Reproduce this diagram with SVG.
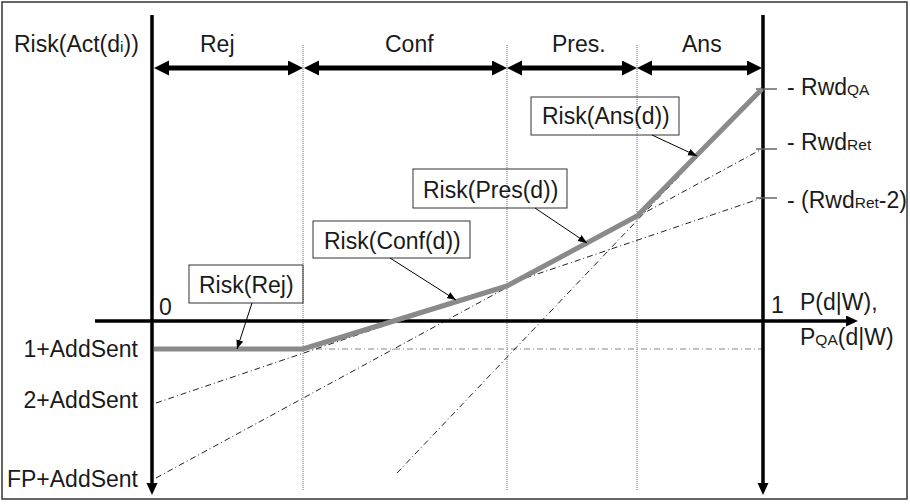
<svg xmlns="http://www.w3.org/2000/svg" width="910" height="504" viewBox="0 0 910 504">
  <defs>
    <style>
      text { font-family: "Liberation Sans", Arial, sans-serif; font-size: 23px; fill: #1a1a1a; }
      .sub { font-size: 15.5px; }
      .axis { stroke: #000; stroke-width: 3.5; fill: none; }
      .span { stroke: #000; stroke-width: 5; fill: none; }
      .guide { stroke: #666; stroke-width: 1; stroke-dasharray: 1 1; fill: none; }
      .dashdot { stroke: #222; stroke-width: 1; stroke-dasharray: 6 3 1 3; fill: none; }
      .dashdot-gray { stroke: #888; stroke-width: 1.2; stroke-dasharray: 6 3 1 3; fill: none; }
      .risk { stroke: #8a8a8a; stroke-width: 5; fill: none; stroke-linejoin: round; }
      .tick { stroke: #666; stroke-width: 1.5; }
      .box { fill: none; stroke: #333; stroke-width: 1; }
      .callout { stroke: #000; stroke-width: 1; fill: none; }
    </style>
    <marker id="spanHead" markerUnits="userSpaceOnUse" markerWidth="16" markerHeight="16" refX="5" refY="7.5" orient="auto-start-reverse">
      <path d="M0,0 L15,7.5 L0,15 z" fill="#000"/>
    </marker>
    <marker id="axisHead" markerUnits="userSpaceOnUse" markerWidth="14" markerHeight="12" refX="4" refY="5.5" orient="auto">
      <path d="M0,0 L12,5.5 L0,11 z" fill="#000"/>
    </marker>
    <marker id="calloutHead" markerUnits="userSpaceOnUse" markerWidth="10" markerHeight="8" refX="9" refY="3.5" orient="auto">
      <path d="M0,0 L9,3.5 L0,7 z" fill="#000"/>
    </marker>
  </defs>

  <rect x="2" y="2" width="905" height="497" fill="#fff" stroke="#333" stroke-width="1.5"/>

  <!-- interval boundaries -->
  <g id="guides">
    <line class="guide" x1="303" y1="45" x2="303" y2="490"/>
    <line class="guide" x1="507" y1="45" x2="507" y2="490"/>
    <line class="guide" x1="637" y1="45" x2="637" y2="490"/>
  </g>

  <!-- reference lines -->
  <g id="reference-lines">
    <line class="dashdot-gray" x1="303" y1="349" x2="762" y2="349"/>
    <line class="dashdot" x1="156" y1="403" x2="762" y2="198"/>
    <line class="dashdot" x1="156" y1="478" x2="762" y2="149"/>
    <line class="dashdot" x1="397" y1="473" x2="762" y2="89"/>
  </g>

  <!-- axes -->
  <g id="axes">
    <line class="axis" x1="152" y1="15" x2="152" y2="487" marker-end="url(#axisHead)"/>
    <line class="axis" x1="763" y1="15" x2="763" y2="487" marker-end="url(#axisHead)"/>
    <line class="axis" x1="95" y1="321" x2="850" y2="321" marker-end="url(#axisHead)"/>
    <line class="tick" x1="756" y1="89" x2="777" y2="89"/>
    <line class="tick" x1="756" y1="149" x2="777" y2="149"/>
    <line class="tick" x1="756" y1="198" x2="777" y2="198"/>
  </g>

  <!-- decision intervals -->
  <g id="intervals">
    <line class="span" x1="164" y1="68" x2="293" y2="68" marker-start="url(#spanHead)" marker-end="url(#spanHead)"/>
    <line class="span" x1="314" y1="68" x2="497" y2="68" marker-start="url(#spanHead)" marker-end="url(#spanHead)"/>
    <line class="span" x1="517" y1="68" x2="627" y2="68" marker-start="url(#spanHead)" marker-end="url(#spanHead)"/>
    <line class="span" x1="647" y1="68" x2="752" y2="68" marker-start="url(#spanHead)" marker-end="url(#spanHead)"/>
    <text x="200" y="52">Rej</text>
    <text x="385" y="52">Conf</text>
    <text x="552" y="52">Pres.</text>
    <text x="682" y="52">Ans</text>
  </g>

  <!-- minimum risk curve -->
  <polyline id="risk-curve" class="risk" points="154,349 303,349 507,286 637,216 762,89"/>

  <!-- axis labels -->
  <g id="labels">
    <text x="14" y="52">Risk(Act(d<tspan class="sub">i</tspan>))</text>
    <text x="159" y="315">0</text>
    <text x="771" y="313">1</text>
    <text x="800" y="310">P(d|W),</text>
    <text x="800" y="345">P<tspan class="sub">QA</tspan>(d|W)</text>
    <text x="138" y="357" text-anchor="end">1+AddSent</text>
    <text x="138" y="408" text-anchor="end">2+AddSent</text>
    <text x="138" y="487" text-anchor="end">FP+AddSent</text>
    <text x="787" y="95">- Rwd<tspan class="sub">QA</tspan></text>
    <text x="787" y="150">- Rwd<tspan class="sub">Ret</tspan></text>
    <text x="787" y="208">- (Rwd<tspan class="sub">Ret</tspan>-2)</text>
  </g>

  <!-- callout boxes -->
  <g id="risk-rej">
    <rect class="box" x="189" y="265" width="114" height="38"/>
    <text x="199" y="293">Risk(Rej)</text>
  </g>
  <g id="risk-conf">
    <rect class="box" x="313" y="221" width="157" height="37"/>
    <text x="324" y="249">Risk(Conf(d))</text>
  </g>
  <g id="risk-pres">
    <rect class="box" x="413" y="169" width="154" height="39"/>
    <text x="423" y="198">Risk(Pres(d))</text>
  </g>
  <g id="risk-ans">
    <rect class="box" x="531" y="97" width="148" height="38"/>
    <text x="542" y="124">Risk(Ans(d))</text>
  </g>

  <!-- callout pointers -->
  <g id="connectors">
    <line class="callout" x1="252" y1="303" x2="237" y2="349" marker-end="url(#calloutHead)"/>
    <line class="callout" x1="390" y1="258" x2="456" y2="300" marker-end="url(#calloutHead)"/>
    <line class="callout" x1="535" y1="208" x2="587" y2="243" marker-end="url(#calloutHead)"/>
    <line class="callout" x1="652" y1="135" x2="697" y2="156" marker-end="url(#calloutHead)"/>
  </g>
</svg>
